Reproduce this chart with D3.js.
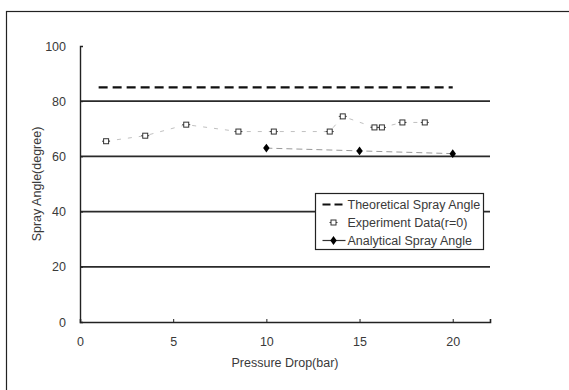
<!DOCTYPE html>
<html>
<head>
<meta charset="utf-8">
<script src="https://cdn.jsdelivr.net/npm/d3@7"></script>
<style>
  html, body { margin: 0; padding: 0; background: #fff; }
  svg { display: block; }
  text { font-family: "Liberation Sans", Arial, sans-serif; fill: #3a3a3a; }
</style>
</head>
<body>
<svg id="chart" width="569" height="390"></svg>
<script>
// Spray angle vs. pressure drop
const yTicks = [0, 20, 40, 60, 80, 100];
const xTicks = [0, 5, 10, 15, 20];
const gridValues = [20, 40, 60, 80];

const theoreticalX = [1, 20];
const theoreticalY = [85, 85];

const experimentX = [1.4, 3.5, 5.7, 8.5, 10.4, 13.4, 14.1, 15.8, 16.2, 17.3, 18.5];
const experimentY = [65.5, 67.5, 71.5, 69, 69, 69, 74.5, 70.5, 70.5, 72.3, 72.3];

const analyticalX = [10, 15, 20];
const analyticalY = [63, 62, 61];

const legendLabels = ["Theoretical Spray Angle", "Experiment Data(r=0)", "Analytical Spray Angle"];

const svg = d3.select("#chart");
const margin = { left: 80, top: 46, right: 79, bottom: 68 };
const W = 569, H = 390;

const x = d3.scaleLinear().domain([0, 22]).range([margin.left, W - margin.right]);
const y = d3.scaleLinear().domain([0, 100]).range([H - margin.bottom, margin.top]);

// outer frame
svg.append("rect")
  .attr("x", 6.5).attr("y", 11.5)
  .attr("width", 600).attr("height", 400)
  .attr("fill", "none").attr("stroke", "#222").attr("stroke-width", 1.2);

// horizontal gridlines
svg.append("g").selectAll("line").data(gridValues).join("line")
  .attr("x1", x(0)).attr("x2", x(22))
  .attr("y1", d => y(d)).attr("y2", d => y(d))
  .attr("stroke", "#2a2a2a").attr("stroke-width", 1.7);

// axes
const xAxis = d3.axisBottom(x).tickValues(xTicks).tickSize(-3).tickPadding(15).tickFormat(d3.format("d"));
const gx = svg.append("g").attr("transform", `translate(0,${y(0)})`).call(xAxis);
gx.select(".domain").attr("stroke", "#222").attr("stroke-width", 1.6);
gx.selectAll(".tick line").attr("stroke", "#222");
gx.selectAll("text").attr("font-size", 12.5).attr("fill", "#3a3a3a");

const yAxis = d3.axisLeft(y).tickValues(yTicks).tickSize(-3).tickPadding(14).tickFormat(d3.format("d"));
const gy = svg.append("g").attr("transform", `translate(${x(0)},0)`).call(yAxis);
gy.select(".domain").attr("stroke", "#222").attr("stroke-width", 1.4);
gy.selectAll(".tick line").attr("stroke", "#222");
gy.selectAll("text").attr("font-size", 12.5).attr("fill", "#3a3a3a");

// axis titles
svg.append("text")
  .attr("x", (x(0) + x(22)) / 2).attr("y", 367)
  .attr("text-anchor", "middle").attr("font-size", 12.5)
  .text("Pressure Drop(bar)");

svg.append("text")
  .attr("transform", `translate(41,${(y(0) + y(100)) / 2}) rotate(-90)`)
  .attr("text-anchor", "middle").attr("font-size", 12.5)
  .text("Spray Angle(degree)");

const line = d3.line().x(d => x(d[0])).y(d => y(d[1]));

// theoretical spray angle
svg.append("path")
  .datum(d3.zip(theoreticalX, theoreticalY))
  .attr("d", line).attr("fill", "none")
  .attr("stroke", "#111").attr("stroke-width", 2.2)
  .attr("stroke-dasharray", "9,5");

// experiment data
const expPts = d3.zip(experimentX, experimentY);
svg.append("path")
  .datum(expPts).attr("d", line).attr("fill", "none")
  .attr("stroke", "#b0b0b0").attr("stroke-width", 0.8)
  .attr("stroke-dasharray", "4,7");
const expG = svg.append("g").selectAll("g").data(expPts).join("g")
  .attr("transform", d => `translate(${x(d[0])},${y(d[1])})`);
expG.append("line").attr("x1", -4).attr("x2", 4).attr("stroke", "#444").attr("stroke-width", 1);
expG.append("rect").attr("x", -2.5).attr("y", -2.5).attr("width", 5).attr("height", 5)
  .attr("fill", "#fff").attr("stroke", "#333").attr("stroke-width", 1);

// analytical spray angle
const anaPts = d3.zip(analyticalX, analyticalY);
svg.append("path")
  .datum(anaPts).attr("d", line).attr("fill", "none")
  .attr("stroke", "#999").attr("stroke-width", 1)
  .attr("stroke-dasharray", "6,4");
svg.append("g").selectAll("path").data(anaPts).join("path")
  .attr("transform", d => `translate(${x(d[0])},${y(d[1])}) scale(1,0.8)`)
  .attr("d", d3.symbol(d3.symbolDiamond, 36))
  .attr("fill", "#000");

// legend
const lg = svg.append("g").attr("transform", "translate(315.5,193.5)");
lg.append("rect").attr("width", 168).attr("height", 56)
  .attr("fill", "#fff").attr("stroke", "#222").attr("stroke-width", 1.2);
const rowY = [11, 29, 47];
lg.append("line").attr("x1", 7).attr("x2", 30).attr("y1", rowY[0]).attr("y2", rowY[0])
  .attr("stroke", "#111").attr("stroke-width", 2).attr("stroke-dasharray", "8,4");
const le = lg.append("g").attr("transform", `translate(18,${rowY[1]})`);
le.append("line").attr("x1", -4).attr("x2", 4).attr("stroke", "#444");
le.append("rect").attr("x", -2.5).attr("y", -2.5).attr("width", 5).attr("height", 5)
  .attr("fill", "#fff").attr("stroke", "#333");
lg.append("line").attr("x1", 7).attr("x2", 30).attr("y1", rowY[2]).attr("y2", rowY[2])
  .attr("stroke", "#333").attr("stroke-width", 1.2);
lg.append("path").attr("transform", `translate(18,${rowY[2]}) scale(1,0.8)`)
  .attr("d", d3.symbol(d3.symbolDiamond, 36)).attr("fill", "#000");
lg.selectAll("text.lbl").data(legendLabels).join("text")
  .attr("class", "lbl")
  .attr("x", 32).attr("y", (d, i) => rowY[i] + 4.5)
  .attr("font-size", 12.5).attr("fill", "#2a2a2a")
  .text(d => d);
</script>
</body>
</html>
